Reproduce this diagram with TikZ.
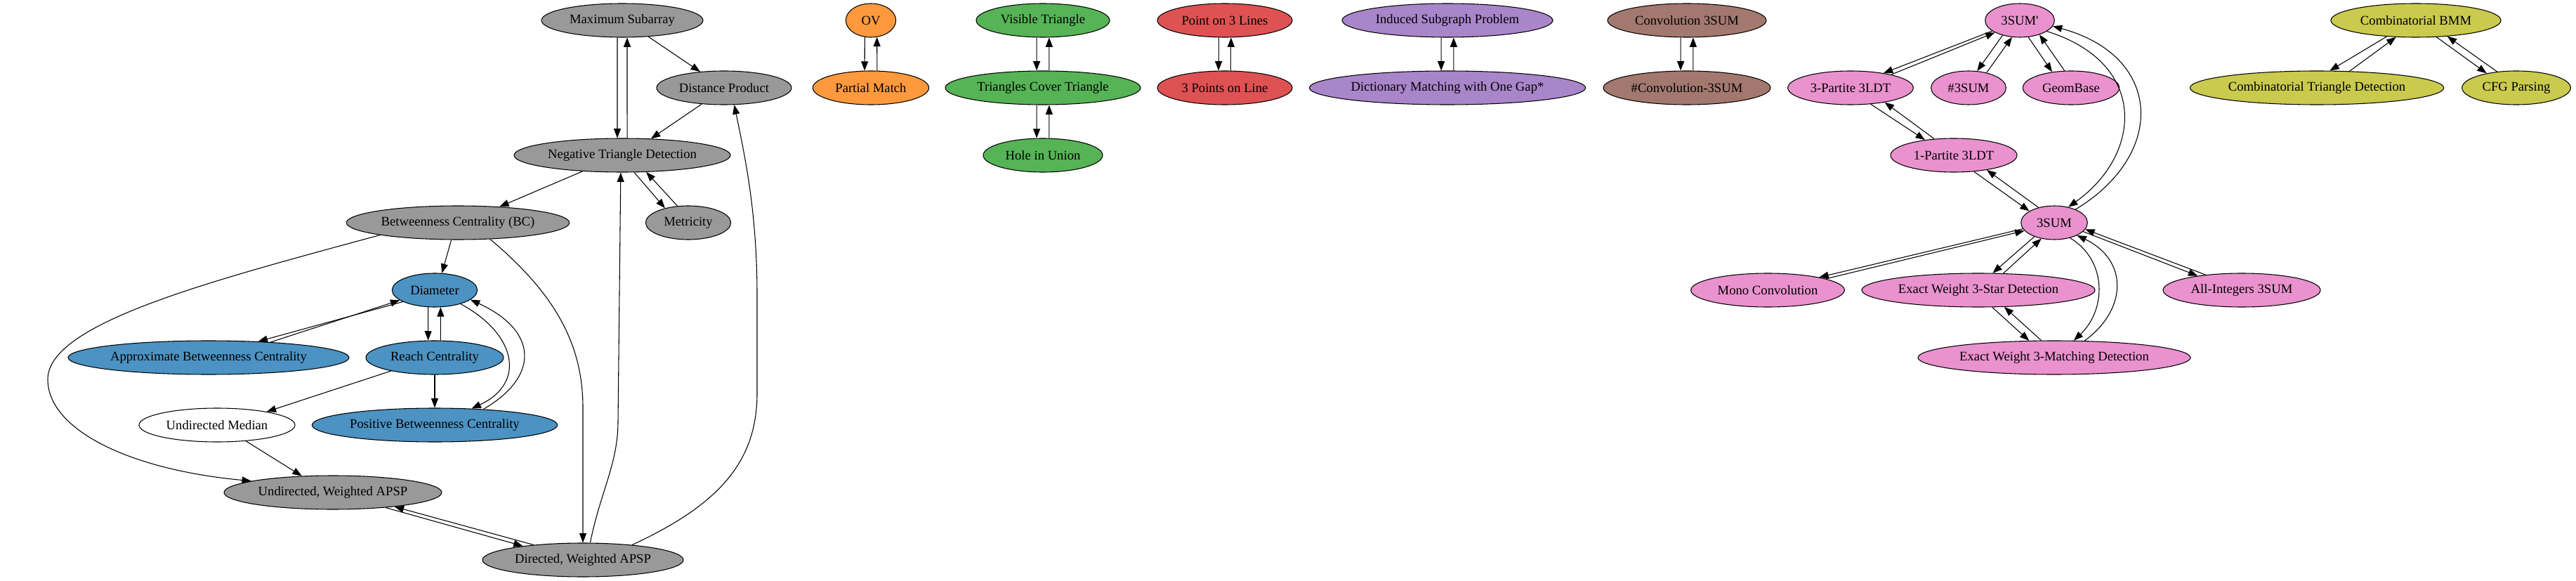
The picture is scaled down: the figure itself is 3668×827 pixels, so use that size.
\documentclass[tikz,border=0pt]{standalone}
\usepackage{fontspec}
\setmainfont{Liberation Serif}
\usetikzlibrary{arrows.meta,shapes.geometric}

\definecolor{cgray}{HTML}{999999}
\definecolor{cblue}{HTML}{4C92C3}
\definecolor{corange}{HTML}{FF993E}
\definecolor{cgreen}{HTML}{56B356}
\definecolor{cred}{HTML}{DE5253}
\definecolor{cpurple}{HTML}{A985CA}
\definecolor{cbrown}{HTML}{A3786F}
\definecolor{cpink}{HTML}{E992CE}
\definecolor{colive}{HTML}{C9CA4E}

\begin{document}
\begin{tikzpicture}[
        x=0.75pt, y=-0.75pt,
        prob/.style={ellipse, draw, line width=0.8pt, minimum height=36pt, inner sep=0pt, font=\fontsize{14}{16}\selectfont},
        arrow/.style={-{Triangle[length=10pt, width=7.5pt]}, line width=0.8pt}
    ]
        \useasboundingbox (0,0) rectangle (3668,827);

        % APSP family
        \node[prob, fill=cgray, minimum width=172.5pt] (maxsub) at (886,29) {Maximum Subarray};
        \node[prob, fill=cgray, minimum width=144pt] (distprod) at (1031,125) {Distance Product};
        \node[prob, fill=cgray, minimum width=231pt] (negtri) at (886,221) {Negative Triangle Detection};
        \node[prob, fill=cgray, minimum width=238pt] (bc) at (652,317) {Betweenness Centrality (BC)};
        \node[prob, fill=cgray, minimum width=91pt] (metric) at (980,317) {Metricity};
        \node[prob, fill=cblue, minimum width=91pt] (diam) at (619,413) {Diameter};
        \node[prob, fill=cblue, minimum width=300pt] (approxbc) at (297,509) {Approximate Betweenness Centrality};
        \node[prob, fill=cblue, minimum width=147pt] (reach) at (619,509) {Reach Centrality};
        \node[prob, fill=white, minimum width=166.5pt] (umedian) at (309,605) {Undirected Median};
        \node[prob, fill=cblue, minimum width=262pt] (posbc) at (619,605) {Positive Betweenness Centrality};
        \node[prob, fill=cgray, minimum width=232.5pt] (uapsp) at (474,701) {Undirected, Weighted APSP};
        \node[prob, fill=cgray, minimum width=214.5pt] (dapsp) at (830,797) {Directed, Weighted APSP};

        % small groups
        \node[prob, fill=corange, minimum width=53.5pt] (ov) at (1240,29) {OV};
        \node[prob, fill=corange, minimum width=124pt] (pmatch) at (1240,125) {Partial Match};
        \node[prob, fill=cgreen, minimum width=142.5pt] (vistri) at (1485,29) {Visible Triangle};
        \node[prob, fill=cgreen, minimum width=208.5pt] (tricover) at (1485,125) {Triangles Cover Triangle};
        \node[prob, fill=cgreen, minimum width=127.5pt] (hole) at (1485,221) {Hole in Union};
        \node[prob, fill=cred, minimum width=144pt] (ptlines) at (1744,29) {Point on 3 Lines};
        \node[prob, fill=cred, minimum width=144pt] (ptsline) at (1744,125) {3 Points on Line};
        \node[prob, fill=cpurple, minimum width=225pt] (induced) at (2061,29) {Induced Subgraph Problem};
        \node[prob, fill=cpurple, minimum width=295pt] (dictgap) at (2061,125) {Dictionary Matching with One Gap*};
        \node[prob, fill=cbrown, minimum width=169.5pt] (conv) at (2402,29) {Convolution 3SUM};
        \node[prob, fill=cbrown, minimum width=178.5pt] (sconv) at (2402,125) {\#Convolution-3SUM};

        % 3SUM family
        \node[prob, fill=cpink, minimum width=74pt] (tsump) at (2876,29) {3SUM\textquotesingle};
        \node[prob, fill=cpink, minimum width=134pt] (tpart) at (2635,125) {3-Partite 3LDT};
        \node[prob, fill=cpink, minimum width=80pt] (ssum) at (2803,125) {\#3SUM};
        \node[prob, fill=cpink, minimum width=103pt] (geom) at (2949,125) {GeomBase};
        \node[prob, fill=cpink, minimum width=135pt] (opart) at (2782,221) {1-Partite 3LDT};
        \node[prob, fill=cpink, minimum width=71pt] (tsum) at (2925,317) {3SUM};
        \node[prob, fill=cpink, minimum width=164pt] (mono) at (2517,413) {Mono Convolution};
        \node[prob, fill=cpink, minimum width=249pt] (star) at (2817,413) {Exact Weight 3-Star Detection};
        \node[prob, fill=cpink, minimum width=291pt] (matching) at (2925,509) {Exact Weight 3-Matching Detection};
        \node[prob, fill=cpink, minimum width=168pt] (allint) at (3192,413) {All-Integers 3SUM};

        % BMM family
        \node[prob, fill=colive, minimum width=181.5pt] (bmm) at (3440,29) {Combinatorial BMM};
        \node[prob, fill=colive, minimum width=271pt] (ctd) at (3299,125) {Combinatorial Triangle Detection};
        \node[prob, fill=colive, minimum width=116pt] (cfg) at (3583,125) {CFG Parsing};

        % APSP edges
        \draw[arrow] (maxsub.-106) -- (negtri.106);
        \draw[arrow] (negtri.74) -- (maxsub.-74);
        \draw[arrow] (maxsub.-32) -- (distprod.146);
        \draw[arrow] (distprod.-144) -- (negtri.30);
        \draw[arrow] (negtri.-158) -- (bc.21);
        \draw[arrow] (negtri.-55) -- (metric.148);
        \draw[arrow] (metric.123) -- (negtri.-35);
        \draw[arrow] (bc.-111) -- (diam.67);
        \draw[arrow] (bc.-171) .. controls (300,400) and (68,460) .. (68,540) .. controls (68,610) and (180,668) .. (uapsp.172);
        \draw[arrow] (bc.-27) .. controls (780,410) and (830,480) .. (830,580) -- (dapsp.north);
        \draw[arrow] (dapsp.67) .. controls (855,700) and (880,660) .. (880,600) -- (negtri.-95);
        \draw[arrow] (dapsp.17) .. controls (1020,720) and (1078,660) .. (1078,560) -- (1078,420) .. controls (1078,300) and (1060,220) .. (distprod.-59);
        \draw[arrow] (umedian.-29) -- (uapsp.152);
        \draw[arrow] (uapsp.-16) -- (dapsp.167);
        \draw[arrow] (dapsp.163) -- (uapsp.-13);

        \draw[arrow] (diam.-160) -- (approxbc.18);
        \draw[arrow] (approxbc.14) -- (diam.-164);
        \draw[arrow] (diam.-111) -- (reach.111);
        \draw[arrow] (reach.71) -- (diam.-71);
        \draw[arrow] (reach.-163) -- (umedian.15);
        \draw[arrow] (reach) -- (posbc);
        \draw[arrow] (diam.-28) .. controls (735,475) and (750,545) .. (posbc.24);
        \draw[arrow] (posbc.18) .. controls (770,535) and (765,470) .. (diam.-15);

        % pairs
        \draw[arrow] (ov.-110) -- (pmatch.110);
        \draw[arrow] (pmatch.70) -- (ov.-70);
        \draw[arrow] (vistri.-110) -- (tricover.110);
        \draw[arrow] (tricover.70) -- (vistri.-70);
        \draw[arrow] (tricover.-110) -- (hole.110);
        \draw[arrow] (hole.70) -- (tricover.-70);
        \draw[arrow] (ptlines.-110) -- (ptsline.110);
        \draw[arrow] (ptsline.70) -- (ptlines.-70);
        \draw[arrow] (induced.-110) -- (dictgap.110);
        \draw[arrow] (dictgap.70) -- (induced.-70);
        \draw[arrow] (conv.-110) -- (sconv.110);
        \draw[arrow] (sconv.70) -- (conv.-70);

        % 3SUM edges
        \draw[arrow] (tsump.-159) -- (tpart.24);
        \draw[arrow] (tpart.18) -- (tsump.-154);
        \draw[arrow] (tsump.-139) -- (ssum.63);
        \draw[arrow] (ssum.40) -- (tsump.-115);
        \draw[arrow] (tsump.-63) -- (geom.140);
        \draw[arrow] (geom.111) -- (tsump.-36);
        \draw[arrow] (tpart.-39) -- (opart.152);
        \draw[arrow] (opart.140) -- (tpart.-23);
        \draw[arrow] (opart.-39) -- (tsum.155);
        \draw[arrow] (tsum.136) -- (opart.-24);
        \draw[arrow] (tsump.-22) .. controls (3060,90) and (3050,220) .. (tsum.48);
        \draw[arrow] (tsum.32) .. controls (3085,220) and (3080,80) .. (tsump.-10);
        \draw[arrow] (tsum.-169) -- (mono.14);
        \draw[arrow] (mono.11) -- (tsum.-165);
        \draw[arrow] (tsum.-145) -- (star.50);
        \draw[arrow] (star.34) -- (tsum.-129);
        \draw[arrow] (star.-51) -- (matching.146);
        \draw[arrow] (matching.127) -- (star.-33);
        \draw[arrow] (tsum.-44) .. controls (3000,370) and (3000,440) .. (matching.41);
        \draw[arrow] (matching.29) .. controls (3030,440) and (3030,370) .. (tsum.-29);
        \draw[arrow] (tsum.-17) -- (allint.162);
        \draw[arrow] (allint.157) -- (tsum.-12);

        % BMM edges
        \draw[arrow] (bmm.-151) -- (ctd.53);
        \draw[arrow] (ctd.27) -- (bmm.-140);
        \draw[arrow] (bmm.-39) -- (cfg.154);
        \draw[arrow] (cfg.140) -- (bmm.-27);
    \end{tikzpicture}
\end{document}
